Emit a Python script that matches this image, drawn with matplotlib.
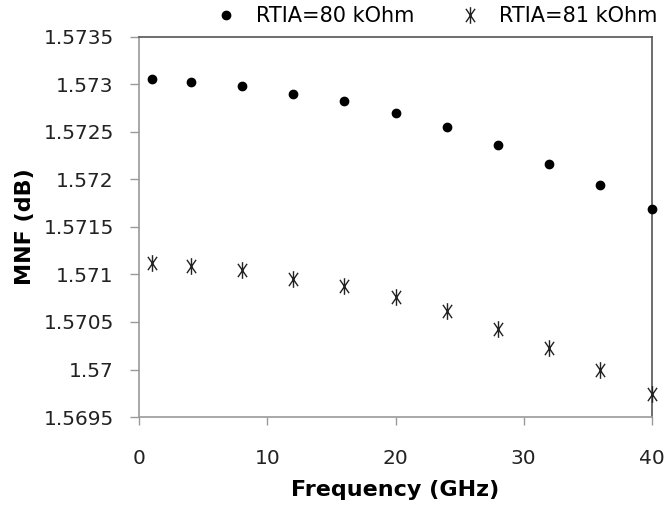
import numpy as np
import matplotlib.pyplot as plt
from matplotlib.path import Path
from matplotlib.ticker import FuncFormatter

# frequency points (GHz)
freq = [1, 4, 8, 12, 16, 20, 24, 28, 32, 36, 40]
# MNF (dB) for each RTIA value
mnf_80k = [1.57306, 1.57302, 1.57298, 1.57290, 1.57282, 1.57270,
           1.57255, 1.57236, 1.57216, 1.57194, 1.57169]
mnf_81k = [1.57112, 1.57109, 1.57105, 1.57095, 1.57088, 1.57076,
           1.57062, 1.57043, 1.57023, 1.57000, 1.56974]

plt.rcParams['font.family'] = 'DejaVu Sans'

# narrow asterisk, like the excel one
star = Path([(0, -1), (0, 1), (-0.55, -0.8), (0.55, 0.8), (-0.55, 0.8), (0.55, -0.8)],
            [Path.MOVETO, Path.LINETO] * 3)

fig = plt.figure(figsize=(6.67, 5.12), dpi=100)
ax = fig.add_axes([0.209, 0.1855, 0.768, 0.7425])

ax.plot(freq, mnf_80k, linestyle='none', marker='o', markersize=6,
        color='black', label='RTIA=80 kOhm', clip_on=False, zorder=3)
ax.plot(freq, mnf_81k, linestyle='none', marker=star, markersize=12,
        markeredgewidth=1.0, color='#222222', label='RTIA=81 kOhm',
        clip_on=False, zorder=3)

ax.set_xlim(0, 40)
ax.set_ylim(1.5695, 1.5735)
ax.set_xticks([0, 10, 20, 30, 40])
ax.set_yticks(np.arange(1.5695, 1.57351, 0.0005))
ax.yaxis.set_major_formatter(FuncFormatter(lambda v, p: '%g' % round(v, 4)))

light = '#9a9a9a'
dark = '#555555'
ax.spines['left'].set_color(light)
ax.spines['bottom'].set_color(light)
ax.spines['top'].set_color(dark)
ax.spines['right'].set_color(dark)
for s in ax.spines.values():
    s.set_linewidth(1.2)

ax.tick_params(axis='y', direction='out', length=6.5, width=1, color=light,
               labelsize=14.5, pad=12, labelcolor='#222222')
ax.tick_params(axis='x', direction='out', length=6, width=1, color=light,
               labelsize=14.5, pad=17, labelcolor='#222222')

ax.set_xlabel('Frequency (GHz)', fontsize=16, fontweight='bold', labelpad=9)
ax.set_ylabel('MNF (dB)', fontsize=16, fontweight='bold', labelpad=6)

fig.legend(loc='center', bbox_to_anchor=(0.655, 0.969), ncol=2, frameon=False,
           fontsize=15, handlelength=1.0, handletextpad=0.9, columnspacing=2.2)

plt.savefig('out.png')
